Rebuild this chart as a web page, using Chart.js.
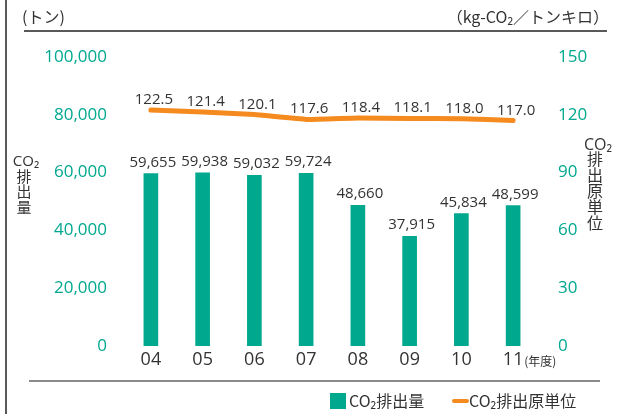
<!DOCTYPE html>
<html>
<head>
<meta charset="utf-8">
<script src="https://cdn.jsdelivr.net/npm/chart.js@4"></script>
<style>
  html, body { margin: 0; padding: 0; background: #fff; }
  canvas { display: block; }
</style>
</head>
<body>
<canvas id="myChart" width="619" height="414"></canvas>
<script>
const years = ['04', '05', '06', '07', '08', '09', '10', '11'];
const emissions = [59655, 59938, 59032, 59724, 48660, 37915, 45834, 48599];
const intensity = [122.5, 121.4, 120.1, 117.6, 118.4, 118.1, 118.0, 117.0];
const leftTicks = [0, 20000, 40000, 60000, 80000, 100000];
const rightTicks = [0, 30, 60, 90, 120, 150];

const FONT = "'Open Sans', 'Noto Sans CJK JP', sans-serif";
const JP = "'Noto Sans CJK JP', 'Open Sans', sans-serif";
const GREEN = '#00a88e';
const ORANGE = '#f58a1f';
const TEAL = '#00a88f';
const DARK = '#333333';

// labels, frame lines, side titles and legend
const decor = {
  id: 'decor',
  afterDatasetsDraw(chart) {
    const c = chart.ctx;
    c.save();
    // values above bars
    c.fillStyle = DARK;
    c.font = '15px ' + FONT;
    c.textAlign = 'center';
    c.textBaseline = 'alphabetic';
    chart.getDatasetMeta(0).data.forEach(function(bar, i) {
      c.fillText(emissions[i].toLocaleString('en-US'), bar.x + 2, bar.y - 7);
    });
    chart.getDatasetMeta(1).data.forEach(function(pt, i) {
      c.fillText(intensity[i].toFixed(1), pt.x + 3, pt.y - 6);
    });
    c.restore();
  },
  afterDraw(chart) {
    const c = chart.ctx;
    c.save();
    // left frame line
    c.strokeStyle = '#222';
    c.lineWidth = 1.5;
    c.beginPath(); c.moveTo(6, 0); c.lineTo(6, 414); c.stroke();
    // top line
    c.lineWidth = 1.5;
    c.beginPath(); c.moveTo(24, 31); c.lineTo(607, 31); c.stroke();
    // bottom gray line
    c.strokeStyle = '#8a8a8a';
    c.lineWidth = 2;
    c.beginPath(); c.moveTo(29, 381); c.lineTo(600, 381); c.stroke();

    // unit labels
    c.fillStyle = DARK;
    c.textBaseline = 'middle';
    c.font = '16px ' + JP;
    c.textAlign = 'left';
    c.fillText('(トン)', 22, 17);
    c.textAlign = 'right';
    c.fillText('（kg-CO₂／トンキロ）', 609, 17);

    // year unit after last tick
    const xs = chart.scales.x;
    c.textAlign = 'left';
    c.font = '12px ' + JP;
    c.fillText('(年度)', xs.getPixelForValue(years.length - 1) + 11, 361);

    // vertical axis titles
    c.textAlign = 'center';
    c.font = '15px ' + FONT;
    c.fillText('CO₂', 26, 162);
    c.font = '15px ' + JP;
    ['排', '出', '量'].forEach(function(ch, i) { c.fillText(ch, 24, 176 + i * 15.5); });
    c.font = '16px ' + FONT;
    c.fillText('CO₂', 598, 145);
    c.font = '16px ' + JP;
    ['排', '出', '原', '単', '位'].forEach(function(ch, i) { c.fillText(ch, 595, 159 + i * 16); });

    // legend
    c.fillStyle = GREEN;
    c.fillRect(330, 393, 16, 16);
    c.fillStyle = DARK;
    c.textAlign = 'left';
    c.font = '16px ' + JP;
    c.fillText('CO₂排出量', 349, 401);
    c.strokeStyle = ORANGE;
    c.lineWidth = 4;
    c.lineCap = 'round';
    c.beginPath(); c.moveTo(454, 401); c.lineTo(467, 401); c.stroke();
    c.fillText('CO₂排出原単位', 469, 401);
    c.restore();
  }
};

const ctx = document.getElementById('myChart').getContext('2d');
const chart = new Chart(ctx, {
  data: {
    labels: years,
    datasets: [
      {
        type: 'bar',
        label: 'CO₂排出量',
        data: emissions,
        backgroundColor: GREEN,
        barThickness: 14,
        yAxisID: 'y',
        order: 2,
      },
      {
        type: 'line',
        label: 'CO₂排出原単位',
        data: intensity,
        borderColor: ORANGE,
        borderWidth: 5,
        borderCapStyle: 'round',
        pointRadius: 0,
        tension: 0.1,
        yAxisID: 'y1',
        order: 1,
      },
    ],
  },
  options: {
    responsive: false,
    animation: false,
    layout: { padding: { top: 57, left: 0, right: 0, bottom: 0 } },
    plugins: { legend: { display: false }, tooltip: { enabled: false } },
    scales: {
      x: {
        grid: { display: false, drawTicks: false },
        border: { display: false },
        ticks: { color: DARK, font: { size: 18, family: FONT }, padding: 3 },
        afterFit: function(s) { s.height = 68; },
      },
      y: {
        position: 'left',
        min: 0,
        max: 100000,
        afterBuildTicks: function(s) { s.ticks = leftTicks.map(v => ({ value: v })); },
        grid: { display: false, drawTicks: false },
        border: { display: false },
        ticks: {
          color: TEAL,
          font: { size: 17, family: FONT },
          padding: 18,
          callback: v => v.toLocaleString('en-US'),
        },
        afterFit: function(s) { s.width = 125; },
      },
      y1: {
        position: 'right',
        min: 0,
        max: 150,
        afterBuildTicks: function(s) { s.ticks = rightTicks.map(v => ({ value: v })); },
        grid: { display: false, drawTicks: false },
        border: { display: false },
        ticks: { color: TEAL, font: { size: 17, family: FONT }, padding: 19 },
        afterFit: function(s) { s.width = 80; },
      },
    },
  },
  plugins: [decor],
});
</script>
</body>
</html>
